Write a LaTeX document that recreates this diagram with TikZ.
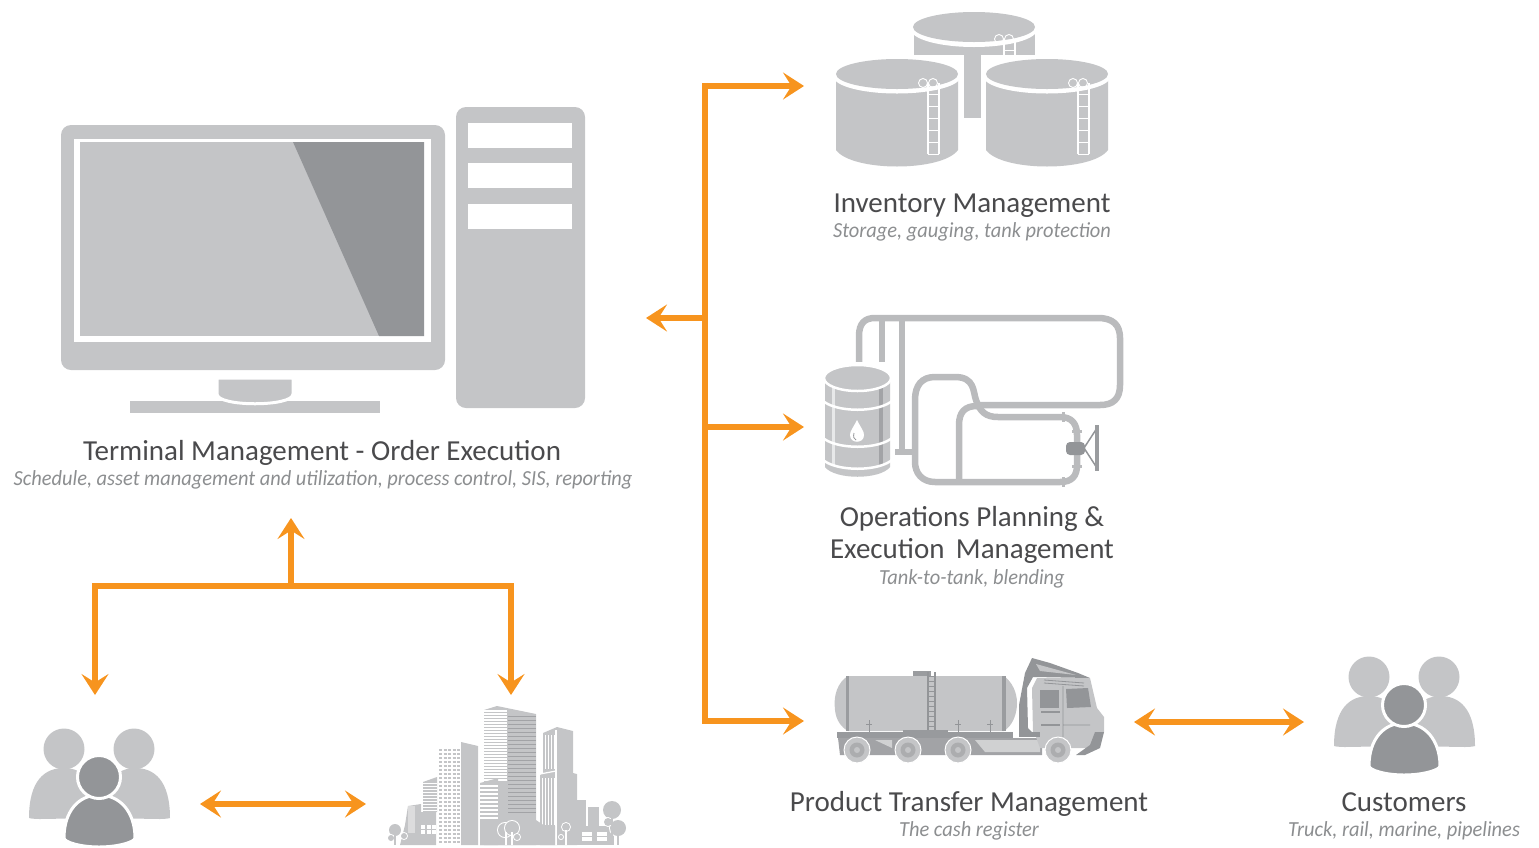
\documentclass[tikz,border=0pt]{standalone}
\usepackage{fontspec}
\setmainfont{Carlito}
\newfontfamily\subfont[FakeStretch=0.95]{Carlito}
\usetikzlibrary{arrows.meta}
\definecolor{orng}{HTML}{F7941E}
\definecolor{lite}{HTML}{C4C5C7}
\definecolor{dark}{HTML}{939598}
\definecolor{pipec}{HTML}{BABBBD}
\definecolor{titlec}{HTML}{4A4A4C}
\definecolor{subc}{HTML}{8C8E90}
\tikzset{
  x=1pt,y=-1pt,
  bus/.style={draw=orng,line width=6.5pt,line join=miter},
  tipped/.style={bus,-{Stealth[length=21pt,width=27pt,inset=8.5pt]}},
  twotipped/.style={bus,{Stealth[length=21pt,width=27pt,inset=8.5pt]}-{Stealth[length=21pt,width=27pt,inset=8.5pt]}},
  titletext/.style={text=titlec,font=\fontsize{29}{32}\selectfont,align=center,inner sep=0pt},
  subtext/.style={text=subc,font=\fontsize{21.5}{24}\subfont\itshape,inner sep=0pt},
  pipeline/.style={draw=pipec,line width=6.5pt,line cap=butt},
  rung/.style={draw=white,line width=.9pt},
  tankladder/.pic={
    \draw[rung] (-5,-3) circle (4.5);
    \draw[rung] (5,-3) circle (4.5);
    \draw[rung,line width=1.2pt] (0,-3) -- (0,#1) (11,-3) -- (11,#1);
    \foreach \r in {8,20,...,#1}{\draw[rung,line width=.7pt] (0,\r) -- (11,\r);}
  },
  tankladder/.default=72,
  group/.pic={
    \fill[lite] (29,818) .. controls (29,780) and (45,768) .. (64,768) .. controls (85,768) and (100,785) .. (100,818) -- (40,819) .. controls (32,819) and (29,818) .. cycle;
    \fill[lite] (170,818) .. controls (170,780) and (154,768) .. (135,768) .. controls (115,768) and (100,785) .. (100,818) -- (160,819) .. controls (167,819) and (170,818) .. cycle;
    \fill[lite] (64,749) circle (20.5);
    \fill[lite] (134,749) circle (20.5);
    \filldraw[fill=dark,draw=white,line width=3pt] (64,838) .. controls (64,812) and (78,795) .. (99,795) .. controls (120,795) and (135,812) .. (135,838) .. controls (135,842) and (118,847) .. (99,847) .. controls (80,847) and (64,842) .. (64,838) -- cycle;
    \filldraw[fill=dark,draw=white,line width=3pt] (99,777) circle (21.5);
  }
}
\begin{document}
\begin{tikzpicture}
\useasboundingbox (0,0) rectangle (1539,847);
% ---------- computer
\fill[lite,rounded corners=10pt] (61,125) rectangle (445,370);
\fill[white] (74,139) rectangle (431,342);
\fill[lite] (80,142) rectangle (424,336);
\fill[dark] (293,142) -- (424,142) -- (424,336) -- (379,336) -- cycle;
\fill[lite] (130,401) rectangle (380,413);
\filldraw[fill=lite,draw=white,line width=3pt] (217,378) -- (217,394) .. controls (217,407) and (293,407) .. (293,394) -- (293,378) -- cycle;
\fill[lite,rounded corners=10pt] (456,107) rectangle (585,408);
\fill[white] (468,123) rectangle (572,148);
\fill[white] (468,163) rectangle (572,188);
\fill[white] (468,204) rectangle (572,229);
% ---------- tanks
\fill[lite] (913.5,33) rectangle (1035,55);
\fill[lite] (964,33) rectangle (981,118);
\fill[white] (974,29.5) ellipse (63 and 17.5);
\fill[lite] (974,27) ellipse (61 and 15);
\pic at (1004,42) {tankladder=15};
\foreach \cx in {897,1047}{
  \fill[lite,draw=white,line width=10pt] (\cx-61,78) -- (\cx-61,150) .. controls (\cx-45,172) and (\cx+45,172) .. (\cx+61,150) -- (\cx+61,78) -- cycle;
  \fill[white] (\cx,73.5) ellipse (66 and 18.5);
  \fill[lite] (\cx-61,78) -- (\cx-61,150) .. controls (\cx-45,172) and (\cx+45,172) .. (\cx+61,150) -- (\cx+61,78) -- cycle;
  \fill[white] (\cx,76.5) ellipse (63.5 and 17);
  \fill[lite] (\cx,74) ellipse (61 and 15);
  \pic at (\cx+31,86) {tankladder=68};
}
% ---------- pipes
\draw[pipeline] (859,368) -- (859,336) .. controls (859,323) and (865,318) .. (875,318) -- (1098,318) .. controls (1113,318) and (1120,325) .. (1120,338) -- (1120,385) .. controls (1120,399) and (1113,405) .. (1100,405) -- (980,405);
\draw[pipeline] (882,318) -- (882,368);
\draw[pipeline] (902,318) -- (902,452);
\draw[pipeline] (895,452) -- (915,452);
\draw[pipeline] (915,400) .. controls (915,385) and (922,377) .. (935,377) -- (955,377) .. controls (975,377) and (973,392) .. (976,400) .. controls (980,412) and (986,417) .. (998,417) -- (1060,417) .. controls (1072,417) and (1077,424) .. (1077,435) -- (1077,465) .. controls (1077,476) and (1072,482) .. (1060,482) -- (935,482) .. controls (922,482) and (915,473) .. (915,462) -- cycle;
\draw[pipeline] (959,482) -- (959,425) .. controls (959,412) and (965,406) .. (977,406);
\fill[pipec] (1062,412) rectangle (1065,422);
\fill[pipec] (1062,477) rectangle (1065,487);
\fill[pipec] (1072,430) rectangle (1082,433);
\fill[pipec] (1072,465) rectangle (1082,468);
\draw[draw=dark,line width=1.5pt] (1084,448) -- (1097,428) (1084,448) -- (1097,468);
\draw[draw=dark!85!lite,line width=3.5pt] (1097,425) -- (1097,471);
\fill[dark,rounded corners=4pt] (1066,442) rectangle (1085,455);
% ---------- barrel
\fill[white] (819,362) rectangle (895,480);
\fill[lite] (825,377) -- (825,467) .. controls (835,480) and (880,480) .. (890,467) -- (890,377) -- cycle;
\fill[white!60!lite] (832,384) rectangle (835,466);
\fill[dark!70!lite] (879,384) rectangle (883,466);
\filldraw[fill=lite,draw=white,line width=2.5pt] (857.5,378) ellipse (33.5 and 13);
\foreach \yy in {400,437,459}{
  \draw[white,line width=2.5pt] (822,\yy) .. controls (835,\yy+13) and (880,\yy+13) .. (893,\yy);
}
\fill[white] (857,420) .. controls (853,428) and (850,431) .. (850,435) .. controls (850,444) and (864,444) .. (864,435) .. controls (864,431) and (861,428) .. (857,420) -- cycle;
\draw[dark,line width=.8pt] (854,433) .. controls (853,437) and (854,439) .. (856,440);
% ---------- truck
\fill[lite] (848,676) .. controls (838,682) and (833,695) .. (835,710) .. controls (836,720) and (841,727) .. (848,731) -- (1004,731) .. controls (1012,726) and (1017,715) .. (1017,703) .. controls (1017,692) and (1012,682) .. (1004,676) -- cycle;
\fill[dark!85!lite] (846,676) rectangle (849,731);
\fill[dark!85!lite] (1002,676) rectangle (1006,731);
\foreach \xx in {869,958,990}{
  \draw[dark,line width=1pt] (\xx,720) -- (\xx,732) (\xx-3,724) -- (\xx+3,724);
}
\fill[dark!85!lite] (913,671) rectangle (931,676);
\draw[dark,line width=1.2pt] (928,672) -- (928,732) (935,672) -- (935,732);
\foreach \yy in {676,681,...,731}{\draw[dark,line width=1pt] (928,\yy) -- (935,\yy);}
\fill[dark!90!lite] (837,732) rectangle (1013,738);
\fill[dark!90!lite] (903,730) rectangle (948,738);
\fill[dark!70!lite] (838,738) -- (1042,738) -- (1042,755) -- (840,755) -- cycle;
\fill[white!20!lite] (875,740) -- (892,740) -- (892,748) -- cycle;
\fill[white!20!lite] (975,740) -- (1040,740) -- (1040,752) -- (985,752) -- cycle;
\fill[dark] (1019,732) -- (1019,705) -- (1025,673) -- (1032,658) -- (1050,663) -- (1078,673) -- (1090,678) -- (1033,677) -- (1027,688) -- (1028,728) -- (1033,733) -- cycle;
\fill[lite] (1036,664) -- (1076,675) -- (1040,671) -- cycle;
\fill[lite] (1033,733) -- (1032,688) -- (1037,678) -- (1090,678) -- (1097,708) -- (1104,717) -- (1104,732) -- (1095,748) -- (1040,748) -- (1036,737) -- cycle;
\fill[dark] (1019,732) rectangle (1040,737);
\fill[dark] (1095,732) -- (1104,732) -- (1100,748) -- (1085,755) -- (1076,755) -- (1090,745) -- cycle;
\fill[dark] (1040,690) rectangle (1059,708);
\fill[dark] (1066,689) -- (1088,688) -- (1091,707) -- (1067,708) -- cycle;
\fill[dark] (1041,711) rectangle (1060,713);
\fill[dark] (1041,724) rectangle (1060,726);
\draw[dark,line width=.8pt] (1063,686) -- (1063,737) (1044,680) -- (1084,683) (1044,683) -- (1084,686) (1063,725) -- (1090,725);
\foreach \xx in {857,908,958,1058}{
  \filldraw[fill=lite,draw=white,line width=1pt] (\xx,750) circle (13);
  \fill[dark!50!lite] (\xx,750) circle (7.5);
  \fill[lite] (\xx,750) circle (3);
}
% ---------- city
\begin{scope}
\fill[lite] (484,710) -- (497,706) -- (536,714) -- (536,845) -- (484,845) -- cycle;
\foreach \yy in {711,714,...,780}{\draw[white,line width=1.2pt] (484,\yy) -- (507,\yy);}
\foreach \yy in {716,720,...,812}{\draw[dark!70!lite,line width=.4pt] (508,\yy) -- (536,\yy);}
\fill[white] (477,780) rectangle (480,845);
\fill[lite] (480,783) -- (498,778) -- (498,845) -- (480,845) -- cycle;
\foreach \yy in {786,790,...,820}{\draw[white,line width=1.5pt] (480,\yy) -- (498,\yy);}
\fill[white] (437,752) -- (461,742) -- (461,845) -- (437,845) -- cycle;
\fill[lite] (461,742) -- (478,746) -- (478,845) -- (461,845) -- cycle;
\foreach \yy in {750,754,...,843}{\draw[lite,line width=2pt,dash pattern=on 3pt off 1.5pt] (439,\yy) -- (460,\yy);}
\fill[lite] (423,782) -- (437,777) -- (437,812) -- (423,812) -- cycle;
\foreach \yy in {783,786,...,810}{\draw[white,line width=1pt] (423,\yy) -- (437,\yy);}
\fill[lite] (408,806) -- (421,804) -- (421,812) -- (436,812) -- (436,845) -- (400,845) -- (405,825) -- cycle;
\fill[white!40!lite] (408,806) rectangle (415,833);
\foreach \xx/\yy in {421/825,426.5/825,432/825,421/830,426.5/830,432/830}{\fill[white] (\xx,\yy) rectangle +(4,3.5);}
\fill[lite] (543,733) -- (557,727) -- (573,731) -- (573,773) -- (577,774) -- (577,845) -- (540,845) -- (540,775) -- (543,773) -- cycle;
\foreach \xx in {545,548,551,554}{\draw[white,line width=.8pt] (\xx,735) -- (\xx,769);}
\draw[white,line width=1.2pt] (556,730) -- (556,845);
\draw[white,line width=1.2pt] (540,774) -- (556,771);
\foreach \xx in {542,545,548,551,554}{\draw[white,line width=.8pt] (\xx,778) -- (\xx,825);}
\fill[lite] (480,825) -- (536,820) -- (545,826) -- (555,826) -- (555,845) -- (480,845) -- cycle;
\fill[lite] (577,800) -- (586,800) -- (586,845) -- (577,845) -- cycle;
\fill[lite] (588,807) rectangle (599,845);
\fill[lite] (578,826) rectangle (614,845);
\foreach \xx in {582,597}{\foreach \yy in {832,837}{\fill[white] (\xx,\yy) rectangle +(10,3.5);}}
\foreach \cx/\cy/\rr in {612/810/9,618/828/8,608/822/4,395/830/6,404/836/3,391/838/3,505/830/7,512/828/7,517/837/3,566/827/4,561/837/2}{
  \fill[white] (\cx,\cy) circle (\rr+1);
  \fill[lite] (\cx,\cy) circle (\rr);
}
\fill[white] (505,832) rectangle (507,845);
\fill[white] (511,832) rectangle (513,845);
\fill[white] (565,830) rectangle (567,845);
\fill[lite] (611,812) rectangle (613,845);
\fill[lite] (617,830) rectangle (619,845);
\fill[lite] (394,832) rectangle (396,845);
\end{scope}
% ---------- people
\pic at (0,0) {group};
\pic at (1305,-72) {group};
% ---------- text
\node[titletext] (term) at (322,453) {Terminal Management - Order Execution};
\node[subtext] (termsub) at (323,480) {Schedule, asset management and utilization, process control, SIS, reporting};
\node[titletext] (inv) at (972,206) {Inventory Management};
\node[subtext] (invsub) at (972,232) {Storage, gauging, tank protection};
\node[titletext] (ops) at (972,535) {Operations Planning \&\\Execution\, Management};
\node[subtext] (opssub) at (972,579) {Tank-to-tank, blending};
\node[titletext] (prod) at (969,804) {Product Transfer Management};
\node[subtext] (prodsub) at (969,831) {The cash register};
\node[titletext] (cust) at (1404,802) {Customers};
\node[subtext] (custsub) at (1404,831) {Truck, rail, marine, pipelines};
% ---------- connectors
\coordinate (top) at (705,86);
\coordinate (bot) at (705,721);
\coordinate (mid) at (705,427);
\coordinate (left) at (705,318);
\coordinate (tanks) at (804,86);
\coordinate (plant) at (804,427);
\coordinate (truck) at (804,721);
\coordinate (comp) at (646,318);
\coordinate (busl) at (95,586);
\coordinate (busr) at (511,586);
\coordinate (busm) at (291,586);
\coordinate (up) at (291,518);
\coordinate (staff) at (95,695);
\coordinate (city) at (511,695);
\coordinate (s1) at (200,804);
\coordinate (s2) at (366,804);
\coordinate (c1) at (1134,722);
\coordinate (c2) at (1304,722);
\draw[tipped] (bot) -- (truck);
\draw[tipped] (top) -- (tanks);
\draw[tipped] (mid) -- (plant);
\draw[tipped] (left) -- (comp);
\draw[bus] ([yshift=3.25pt]top) -- ([yshift=-3.25pt]bot);
\draw[tipped] (busl) -- (staff);
\draw[tipped] (busr) -- (city);
\draw[tipped] (busm) -- (up);
\draw[bus] ([xshift=-3.25pt]busl) -- ([xshift=3.25pt]busr);
\draw[twotipped] (s1) -- (s2);
\draw[twotipped] (c1) -- (c2);
\end{tikzpicture}
\end{document}
